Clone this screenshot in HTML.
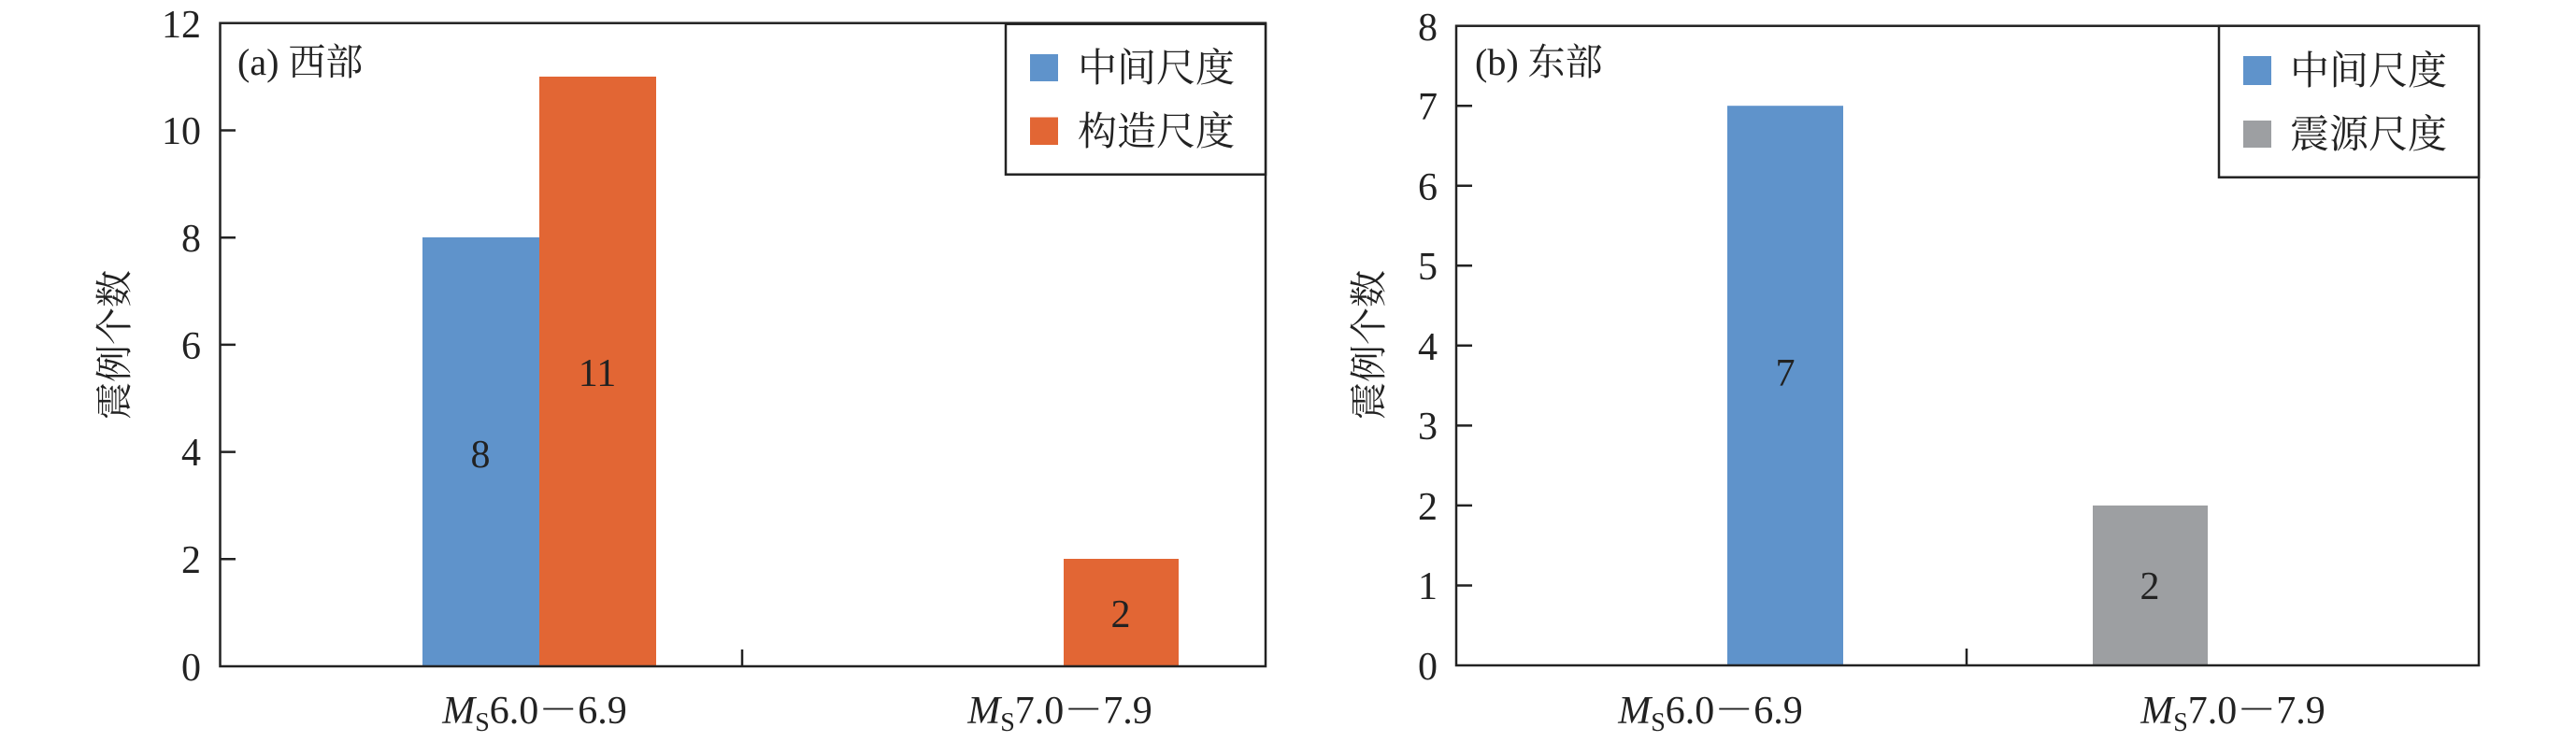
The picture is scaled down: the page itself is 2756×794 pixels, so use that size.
<!DOCTYPE html>
<html><head><meta charset="utf-8"><style>body{margin:0;background:#fff}svg{display:block}</style></head>
<body>
<svg width="2756" height="794" xmlns="http://www.w3.org/2000/svg" font-family="'Liberation Serif','Noto Serif CJK SC',serif">
<rect width="2756" height="794" fill="#fff"/>
<!-- Left panel -->
<g>
<rect x="452" y="254" width="125" height="459" fill="#5f93cb"/>
<rect x="577" y="82" width="125" height="631" fill="#e26634"/>
<rect x="1138" y="598" width="123" height="115" fill="#e26634"/>
<rect x="235.5" y="24.7" width="1118.5" height="688.3" fill="none" stroke="#222" stroke-width="2.5"/>
<g stroke="#222" stroke-width="2.5">
<line x1="235" y1="598.3" x2="252" y2="598.3"/><line x1="235" y1="483.6" x2="252" y2="483.6"/>
<line x1="235" y1="368.9" x2="252" y2="368.9"/><line x1="235" y1="254.2" x2="252" y2="254.2"/>
<line x1="235" y1="139.5" x2="252" y2="139.5"/><line x1="794" y1="713" x2="794" y2="695"/>
</g>
<g font-size="42" text-anchor="end" fill="#222">
<text x="215" y="728">0</text><text x="215" y="613">2</text><text x="215" y="498">4</text>
<text x="215" y="384">6</text><text x="215" y="269">8</text><text x="215" y="154">10</text><text x="215" y="40">12</text>
</g>
<text transform="translate(136,369) rotate(-90)" font-size="40" text-anchor="middle" fill="#222">震例个数</text>
<text x="254" y="80" font-size="40" fill="#222">(a) 西部</text>
<g font-size="42" text-anchor="middle" fill="#222">
<text x="514" y="500">8</text><text x="639" y="413">11</text><text x="1199" y="671">2</text>
</g>
<rect x="1076" y="25.7" width="278" height="161" fill="#fff" stroke="#222" stroke-width="2.5"/>
<rect x="1102" y="58" width="30" height="29" fill="#5f93cb"/>
<rect x="1102" y="125.5" width="30" height="29.5" fill="#e26634"/>
<g font-size="42" fill="#222"><text x="1153" y="87">中间尺度</text><text x="1153" y="155">构造尺度</text></g>
<g font-size="42" fill="#222" text-anchor="middle">
<text x="572" y="774"><tspan font-style="italic">M</tspan><tspan font-size="28" dy="8">S</tspan><tspan dy="-8">6.0－6.9</tspan></text>
<text x="1134" y="774"><tspan font-style="italic">M</tspan><tspan font-size="28" dy="8">S</tspan><tspan dy="-8">7.0－7.9</tspan></text>
</g>
</g>
<!-- Right panel -->
<g>
<rect x="1848" y="113.2" width="124" height="598.8" fill="#5f93cb"/>
<rect x="2239" y="540.9" width="123" height="171.1" fill="#9d9fa2"/>
<rect x="1558" y="27.7" width="1094" height="684.3" fill="none" stroke="#222" stroke-width="2.5"/>
<g stroke="#222" stroke-width="2.5">
<line x1="1558" y1="626.5" x2="1575" y2="626.5"/><line x1="1558" y1="540.9" x2="1575" y2="540.9"/>
<line x1="1558" y1="455.4" x2="1575" y2="455.4"/><line x1="1558" y1="369.8" x2="1575" y2="369.8"/>
<line x1="1558" y1="284.3" x2="1575" y2="284.3"/><line x1="1558" y1="198.8" x2="1575" y2="198.8"/>
<line x1="1558" y1="113.2" x2="1575" y2="113.2"/><line x1="2104" y1="712" x2="2104" y2="694"/>
</g>
<g font-size="42" text-anchor="end" fill="#222">
<text x="1538" y="727">0</text><text x="1538" y="641">1</text><text x="1538" y="556">2</text><text x="1538" y="470">3</text>
<text x="1538" y="385">4</text><text x="1538" y="299">5</text><text x="1538" y="214">6</text><text x="1538" y="128">7</text><text x="1538" y="43">8</text>
</g>
<text transform="translate(1478,369) rotate(-90)" font-size="40" text-anchor="middle" fill="#222">震例个数</text>
<text x="1578" y="80" font-size="40" fill="#222">(b) 东部</text>
<g font-size="42" text-anchor="middle" fill="#222">
<text x="1910" y="413">7</text><text x="2300" y="641">2</text>
</g>
<rect x="2374" y="27.7" width="278" height="162" fill="#fff" stroke="#222" stroke-width="2.5"/>
<rect x="2400" y="60" width="30" height="31" fill="#5f93cb"/>
<rect x="2400" y="129" width="30" height="29" fill="#9d9fa2"/>
<g font-size="42" fill="#222"><text x="2450" y="90">中间尺度</text><text x="2450" y="158">震源尺度</text></g>
<g font-size="42" fill="#222" text-anchor="middle">
<text x="1830" y="774"><tspan font-style="italic">M</tspan><tspan font-size="28" dy="8">S</tspan><tspan dy="-8">6.0－6.9</tspan></text>
<text x="2389" y="774"><tspan font-style="italic">M</tspan><tspan font-size="28" dy="8">S</tspan><tspan dy="-8">7.0－7.9</tspan></text>
</g>
</g>
</svg>
</body></html>
